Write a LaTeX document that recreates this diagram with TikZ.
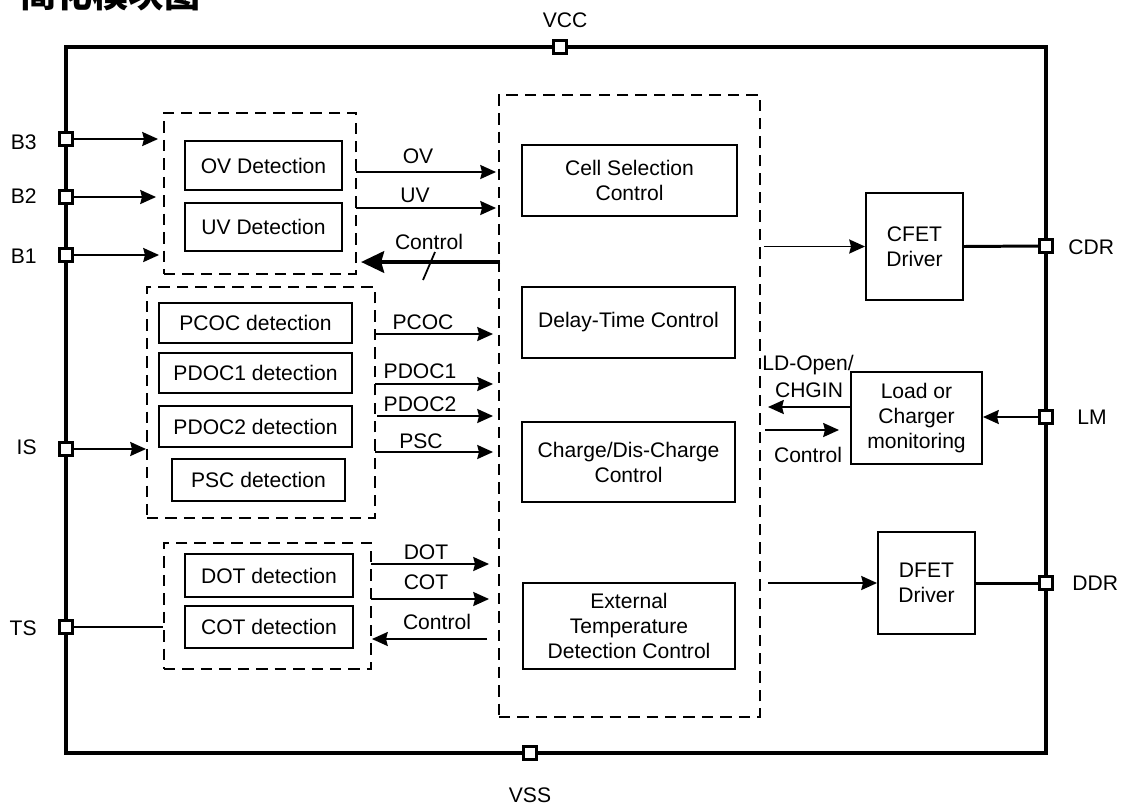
\documentclass[tikz,border=0pt]{standalone}
\usepackage{fontspec}
\setmainfont{Liberation Sans}
\newfontfamily\cjkfont{Noto Sans CJK SC}
\usetikzlibrary{arrows.meta}
\tikzset{
 sz/.style 2 args={minimum width=#1*0.02cm, minimum height=#2*0.02cm},
 txt/.style={font=\fontsize{12}{14.2}\selectfont},
 box/.style={draw, line width=1.1pt, inner sep=0pt, align=center, txt},
 grp/.style={draw, line width=1.1pt, dash pattern=on 6.5pt off 4pt, inner sep=0pt},
 pin/.style={draw, line width=1.6pt, fill=white, minimum size=0.27cm, inner sep=0pt},
 arr/.style={line width=1pt, -{Stealth[length=9pt,width=8pt,inset=1pt]}},
 bigarr/.style={line width=2.8pt, -{Stealth[length=13pt,width=12pt,inset=1.5pt]}},
 wire/.style={line width=1pt},
 thickwire/.style={line width=1.7pt},
 lbl/.style={txt, inner sep=0pt, align=center},
}
\begin{document}
\begin{tikzpicture}[x=0.02cm, y=-0.02cm]
\useasboundingbox (0,0) rectangle (1124,805);
\node[anchor=base west, inner sep=0pt, font=\cjkfont\bfseries\fontsize{20.5}{24}\selectfont] (title) at (20,7) {简化模块图};

% chip outline
\node[draw, line width=2pt, sz={980}{706}, inner sep=0pt] (chip) at (556,400) {};

% dashed groups
\node[grp, sz={192}{161}] (ovg) at (260,193.5) {};
\node[grp, sz={228}{231}] (pcg) at (261,402.5) {};
\node[grp, sz={207}{126}] (otg) at (267.5,606) {};
\node[grp, sz={261}{622}] (ctl) at (629.5,406) {};

% boxes
\node[box, sz={157}{49}] (ov) at (263.5,165.5) {OV Detection};
\node[box, sz={157}{48}] (uv) at (263.5,227) {UV Detection};
\node[box, sz={193}{40}] (pcoc) at (255.5,323) {PCOC detection};
\node[box, sz={193}{40}] (pdoc1) at (255.5,373) {PDOC1 detection};
\node[box, sz={193}{41}] (pdoc2) at (255.5,426.5) {PDOC2 detection};
\node[box, sz={173}{42}] (psc) at (258.5,480) {PSC detection};
\node[box, sz={168}{43}] (dot) at (269,575.5) {DOT detection};
\node[box, sz={168}{42}] (cot) at (269,627) {COT detection};
\node[box, sz={215}{71}] (cell) at (629.5,180.5) {Cell Selection\\Control};
\node[box, sz={213}{71}] (delay) at (628.5,322.5) {Delay-Time Control};
\node[box, sz={213}{80}] (charge) at (628.5,462) {Charge/Dis-Charge\\Control};
\node[box, sz={212}{86}] (ext) at (629,626) {External\\Temperature\\Detection Control};
\node[box, sz={97}{107}] (cfet) at (914.5,246.5) {CFET\\Driver};
\node[box, sz={131}{92}] (load) at (916.5,418) {Load or\\Charger\\monitoring};
\node[box, sz={97}{102}] (dfet) at (926.5,583) {DFET\\Driver};

% pins
\node[pin] (vcc) at (560,47) {};
\node[pin] (vss) at (530,753) {};
\node[pin] (b3) at (66,139) {};
\node[pin] (b2) at (66,197) {};
\node[pin] (b1) at (66,255) {};
\node[pin] (is) at (66,449) {};
\node[pin] (ts) at (66,627) {};
\node[pin] (cdr) at (1046,246) {};
\node[pin] (lm) at (1046,417) {};
\node[pin] (ddr) at (1046,583) {};

% pin labels
\node[lbl] (vccl) at (565,20) {VCC};
\node[lbl] (vssl) at (530,795) {VSS};
\node[lbl, anchor=east] (b3l) at (37,142) {B3};
\node[lbl, anchor=east] (b2l) at (37,196) {B2};
\node[lbl, anchor=east] (b1l) at (37,256) {B1};
\node[lbl, anchor=east] (isl) at (37,447) {IS};
\node[lbl, anchor=east] (tsl) at (37,628) {TS};
\node[lbl, anchor=west] (cdrl) at (1068,247) {CDR};
\node[lbl, anchor=west] (lml) at (1077,417) {LM};
\node[lbl, anchor=west] (ddrl) at (1072,583) {DDR};

% inputs from pins
\draw[arr] (b3.east) -- ([xshift=-0.1cm]b3 -| ovg.west);
\draw[arr] (b2.east) -- ([xshift=-0.14cm]b2 -| ovg.west);
\draw[arr] (b1.east) -- ([xshift=-0.08cm]b1 -| ovg.west);
\draw[arr] (is.east) -- (is -| pcg.west);
\draw[wire] (ts.east) -- (ts -| otg.west);

% OV / UV
\coordinate (ovo) at (356,172);
\coordinate (uvo) at (356,208);
\draw[arr] (ovo) -- ([xshift=-0.04cm]ovo -| ctl.west);
\draw[arr] (uvo) -- ([xshift=-0.04cm]uvo -| ctl.west);
\node[lbl] (ovl) at (418,156) {OV};
\node[lbl] (uvl) at (415,195) {UV};

% control bus back to OV/UV
\coordinate (ctli) at (500,262);
\coordinate (ctlo) at (361,262);
\draw[bigarr] (ctli) -- (ctlo);
\coordinate (sl1) at (435,252);
\coordinate (sl2) at (423,280);
\draw[wire] (sl1) -- (sl2);
\node[lbl] (ctll) at (429,241.5) {Control};

% protection signals
\coordinate (pcoco) at (375,334);
\coordinate (pdoc1o) at (375,384);
\coordinate (pdoc2o) at (377,416);
\coordinate (psco) at (375,452);
\draw[arr] (pcoco) -- ([xshift=-0.1cm]pcoco -| ctl.west);
\draw[arr] (pdoc1o) -- ([xshift=-0.1cm]pdoc1o -| ctl.west);
\draw[arr] (pdoc2o) -- ([xshift=-0.1cm]pdoc2o -| ctl.west);
\draw[arr] (psco) -- ([xshift=-0.1cm]psco -| ctl.west);
\node[lbl] (pcocl) at (423,322) {PCOC};
\node[lbl] (pdoc1l) at (420,371) {PDOC1};
\node[lbl] (pdoc2l) at (420,404) {PDOC2};
\node[lbl] (pscl) at (421,441) {PSC};

% temperature signals
\coordinate (doto) at (371,564);
\coordinate (coto) at (371,599);
\coordinate (ctbi) at (487,639);
\draw[arr] (doto) -- ([xshift=-0.18cm]doto -| ctl.west);
\draw[arr] (coto) -- ([xshift=-0.18cm]coto -| ctl.west);
\draw[arr] (ctbi) -- (ctbi -| otg.east);
\node[lbl] (dotl) at (426,552) {DOT};
\node[lbl] (cotl) at (426,582) {COT};
\node[lbl] (ctbl) at (437,622) {Control};

% right side
\draw[arr] ([xshift=0.06cm]ctl.east |- cfet) -- (cfet.west);
\draw[thickwire] (cfet.east) -- (cdr.west);
\draw[arr] (lm.west) -- (lm -| load.east);
\coordinate (ldo) at (851,407);
\draw[arr] (ldo) -- ([xshift=0.14cm]ldo -| ctl.east);
\coordinate (crs) at (765,430);
\coordinate (cre) at (839,430);
\draw[arr] (crs) -- (cre);
\node[lbl, anchor=base] (ldl) at (808,370) {LD-Open/};
\node[lbl, anchor=base] (chgl) at (809,397) {CHGIN};
\node[lbl] (crl) at (808,455) {Control};
\draw[arr] ([xshift=0.14cm]ctl.east |- dfet) -- (dfet.west);
\draw[thickwire] (dfet.east) -- (ddr.west);
\end{tikzpicture}
\end{document}
